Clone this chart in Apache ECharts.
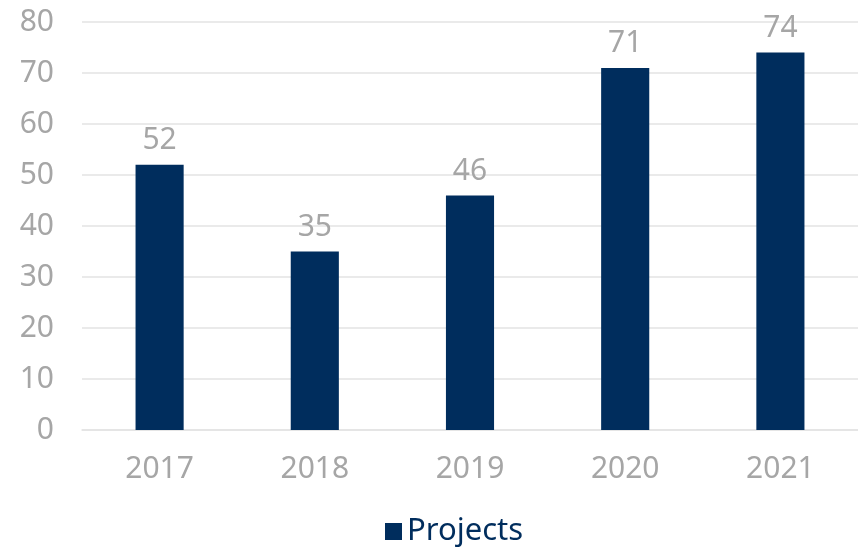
<!DOCTYPE html>
<html>
<head>
<meta charset="utf-8">
<script src="https://cdn.jsdelivr.net/npm/echarts@6/dist/echarts.min.js"></script>
<style>
  html, body { margin: 0; padding: 0; background: #fff; }
  #chart { width: 858px; height: 548px; }
</style>
</head>
<body>
<div id="chart"></div>
<script>
var years = ['2017', '2018', '2019', '2020', '2021'];
var projects = [52, 35, 46, 71, 74];
var seriesName = 'Projects';

var navy = '#002D5D';
var gray = '#A6A6A6';
var font = '"Noto Sans", "Open Sans", sans-serif';

var myChart = echarts.init(document.getElementById('chart'));

var option = {
    backgroundColor: '#fff',
    animation: false,
    textStyle: { fontFamily: font },
    grid: {
        left: 82,
        top: 22,
        right: 0,
        bottom: 118
    },
    legend: {
        data: [seriesName],
        top: 511,
        left: 380,
        icon: 'rect',
        itemWidth: 17,
        itemHeight: 17,
        itemGap: 10,
        textStyle: {
            color: navy,
            fontSize: 31,
            fontFamily: font
        }
    },
    xAxis: {
        type: 'category',
        data: years,
        axisLine: { lineStyle: { color: '#E3E3E3', width: 1.5 } },
        axisTick: { show: false },
        axisLabel: {
            color: gray,
            fontSize: 30,
            margin: 24,
            fontFamily: font
        }
    },
    yAxis: {
        type: 'value',
        min: 0,
        max: 80,
        interval: 10,
        axisLine: { show: false },
        axisTick: { show: false },
        splitLine: { lineStyle: { color: '#E3E3E3', width: 1.5 } },
        axisLabel: {
            color: gray,
            fontSize: 30,
            margin: 28,
            fontFamily: font
        }
    },
    series: [{
        name: seriesName,
        type: 'bar',
        data: projects,
        barWidth: '31%',
        itemStyle: { color: navy },
        label: {
            show: true,
            position: 'top',
            distance: 9,
            color: gray,
            fontSize: 30,
            fontFamily: font
        }
    }]
};

myChart.setOption(option);
</script>
</body>
</html>
